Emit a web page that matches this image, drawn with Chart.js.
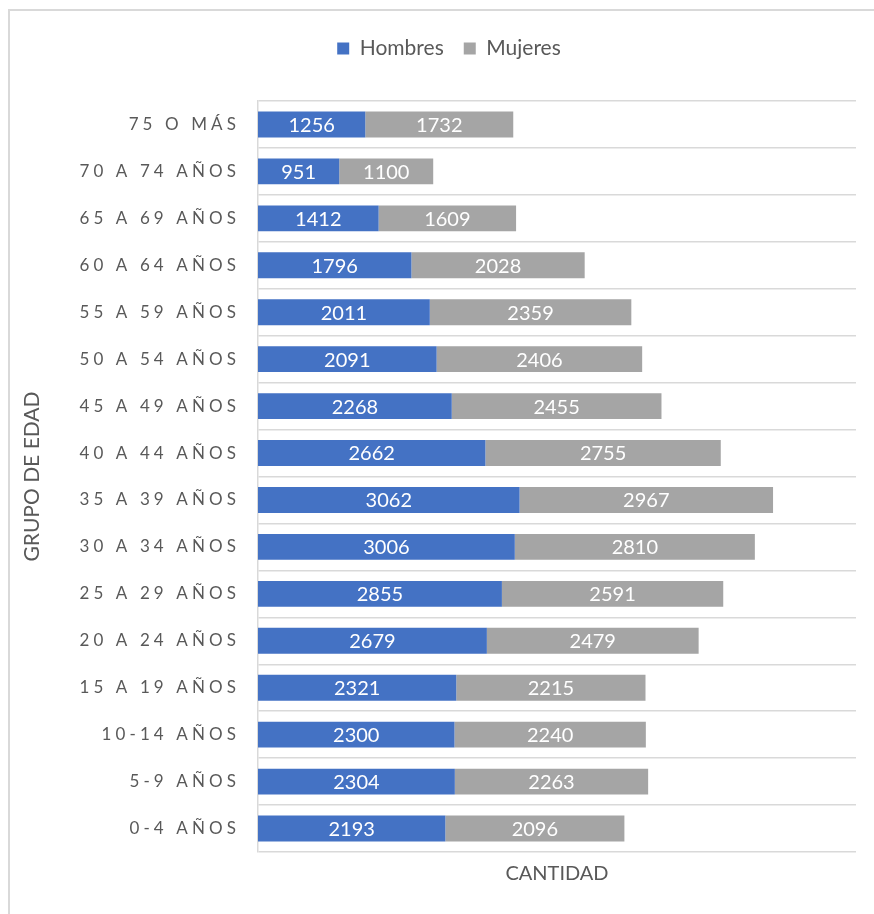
<!DOCTYPE html>
<html>
<head>
<meta charset="utf-8">
<script src="https://cdn.jsdelivr.net/npm/chart.js@4/dist/chart.umd.min.js"></script>
<style>
  html, body { margin: 0; padding: 0; background: #fff; }
  #wrap { position: relative; width: 874px; height: 914px; overflow: hidden; }
  #frame { position: absolute; left: 8px; top: 9px; width: 1000px; height: 1000px;
           border-top: 2px solid #d9d9d9; border-left: 2px solid #d9d9d9; box-sizing: border-box; }
  #c { position: absolute; left: 0; top: 0; }
</style>
</head>
<body>
<div id="wrap">
  <div id="frame"></div>
  <canvas id="c" width="874" height="914"></canvas>
</div>
<script>
const categories = ["75 O MÁS", "70 A 74 AÑOS", "65 A 69 AÑOS", "60 A 64 AÑOS", "55 A 59 AÑOS",
  "50 A 54 AÑOS", "45 A 49 AÑOS", "40 A 44 AÑOS", "35 A 39 AÑOS", "30 A 34 AÑOS",
  "25 A 29 AÑOS", "20 A 24 AÑOS", "15 A 19 AÑOS", "10-14 AÑOS", "5-9 AÑOS", "0-4 AÑOS"];
const hombres = [1256, 951, 1412, 1796, 2011, 2091, 2268, 2662, 3062, 3006, 2855, 2679, 2321, 2300, 2304, 2193];
const mujeres = [1732, 1100, 1609, 2028, 2359, 2406, 2455, 2755, 2967, 2810, 2591, 2479, 2215, 2240, 2263, 2096];
const seriesNames = ["Hombres", "Mujeres"];
const xTitle = "CANTIDAD";
const yTitle = "GRUPO DE EDAD";

const FONT = "Lato, 'Open Sans', sans-serif";
const TEXT = "#595959";

const helper = {
  id: 'helper',
  beforeInit(chart) {
    const lg = chart.legend;
    if (lg) {
      const origFit = lg.fit;
      lg.fit = function () { origFit.call(this); this.height += 32; };
      const origDraw = lg.draw;
      lg.draw = function () {
        const ctx = this.ctx;
        ctx.save();
        ctx.translate(15, 0);
        origDraw.apply(this, arguments);
        ctx.restore();
      };
    }
  },
  beforeDraw(chart) { chart.ctx.letterSpacing = '0px'; },
  afterDatasetsDraw(chart) {
    const ctx = chart.ctx;
    ctx.save();
    ctx.letterSpacing = '0px';
    ctx.fillStyle = '#ffffff';
    ctx.font = "20px " + FONT;
    ctx.textAlign = 'center';
    ctx.textBaseline = 'middle';
    chart.data.datasets.forEach((ds, di) => {
      const meta = chart.getDatasetMeta(di);
      meta.data.forEach((bar, i) => {
        const p = bar.getProps(['x', 'y', 'base'], true);
        ctx.fillText(String(ds.data[i]), (p.x + p.base) / 2, p.y + 1);
      });
    });
    ctx.restore();
    ctx.letterSpacing = '4.1px';
  },
  afterDraw(chart) { chart.ctx.letterSpacing = '0px'; }
};

new Chart(document.getElementById('c'), {
  type: 'bar',
  data: {
    labels: categories,
    datasets: [
      { label: seriesNames[0], data: hombres, backgroundColor: '#4472C4', categoryPercentage: 1, barPercentage: 0.55 },
      { label: seriesNames[1], data: mujeres, backgroundColor: '#A5A5A5', categoryPercentage: 1, barPercentage: 0.55 }
    ]
  },
  options: {
    indexAxis: 'y',
    responsive: false,
    animation: false,
    layout: { padding: { top: 18, left: 12, right: 18, bottom: 28 } },
    plugins: {
      legend: {
        position: 'top',
        labels: { boxWidth: 12, boxHeight: 12, padding: 20, color: TEXT, font: { family: FONT, size: 21 } }
      },
      tooltip: { enabled: false }
    },
    scales: {
      x: {
        stacked: true, min: 0, max: 7000,
        grid: { display: false },
        border: { display: false },
        ticks: { display: false },
        title: { display: true, text: xTitle, color: TEXT, font: { family: FONT, size: 20 }, padding: { top: 2, bottom: 0 } }
      },
      y: {
        stacked: true,
        grid: { color: '#d9d9d9', lineWidth: 1.5, drawTicks: false, offset: true },
        border: { display: true, color: '#d9d9d9', width: 1.5 },
        ticks: { z: 1, padding: 18, color: TEXT, font: { family: FONT, size: 17 }, autoSkip: false },
        title: { display: true, text: yTitle, color: TEXT, font: { family: FONT, size: 21 }, padding: { top: 8, bottom: 0 } },
        afterFit(scale) { scale.width = 246; }
      }
    }
  },
  plugins: [helper]
});
</script>
</body>
</html>
